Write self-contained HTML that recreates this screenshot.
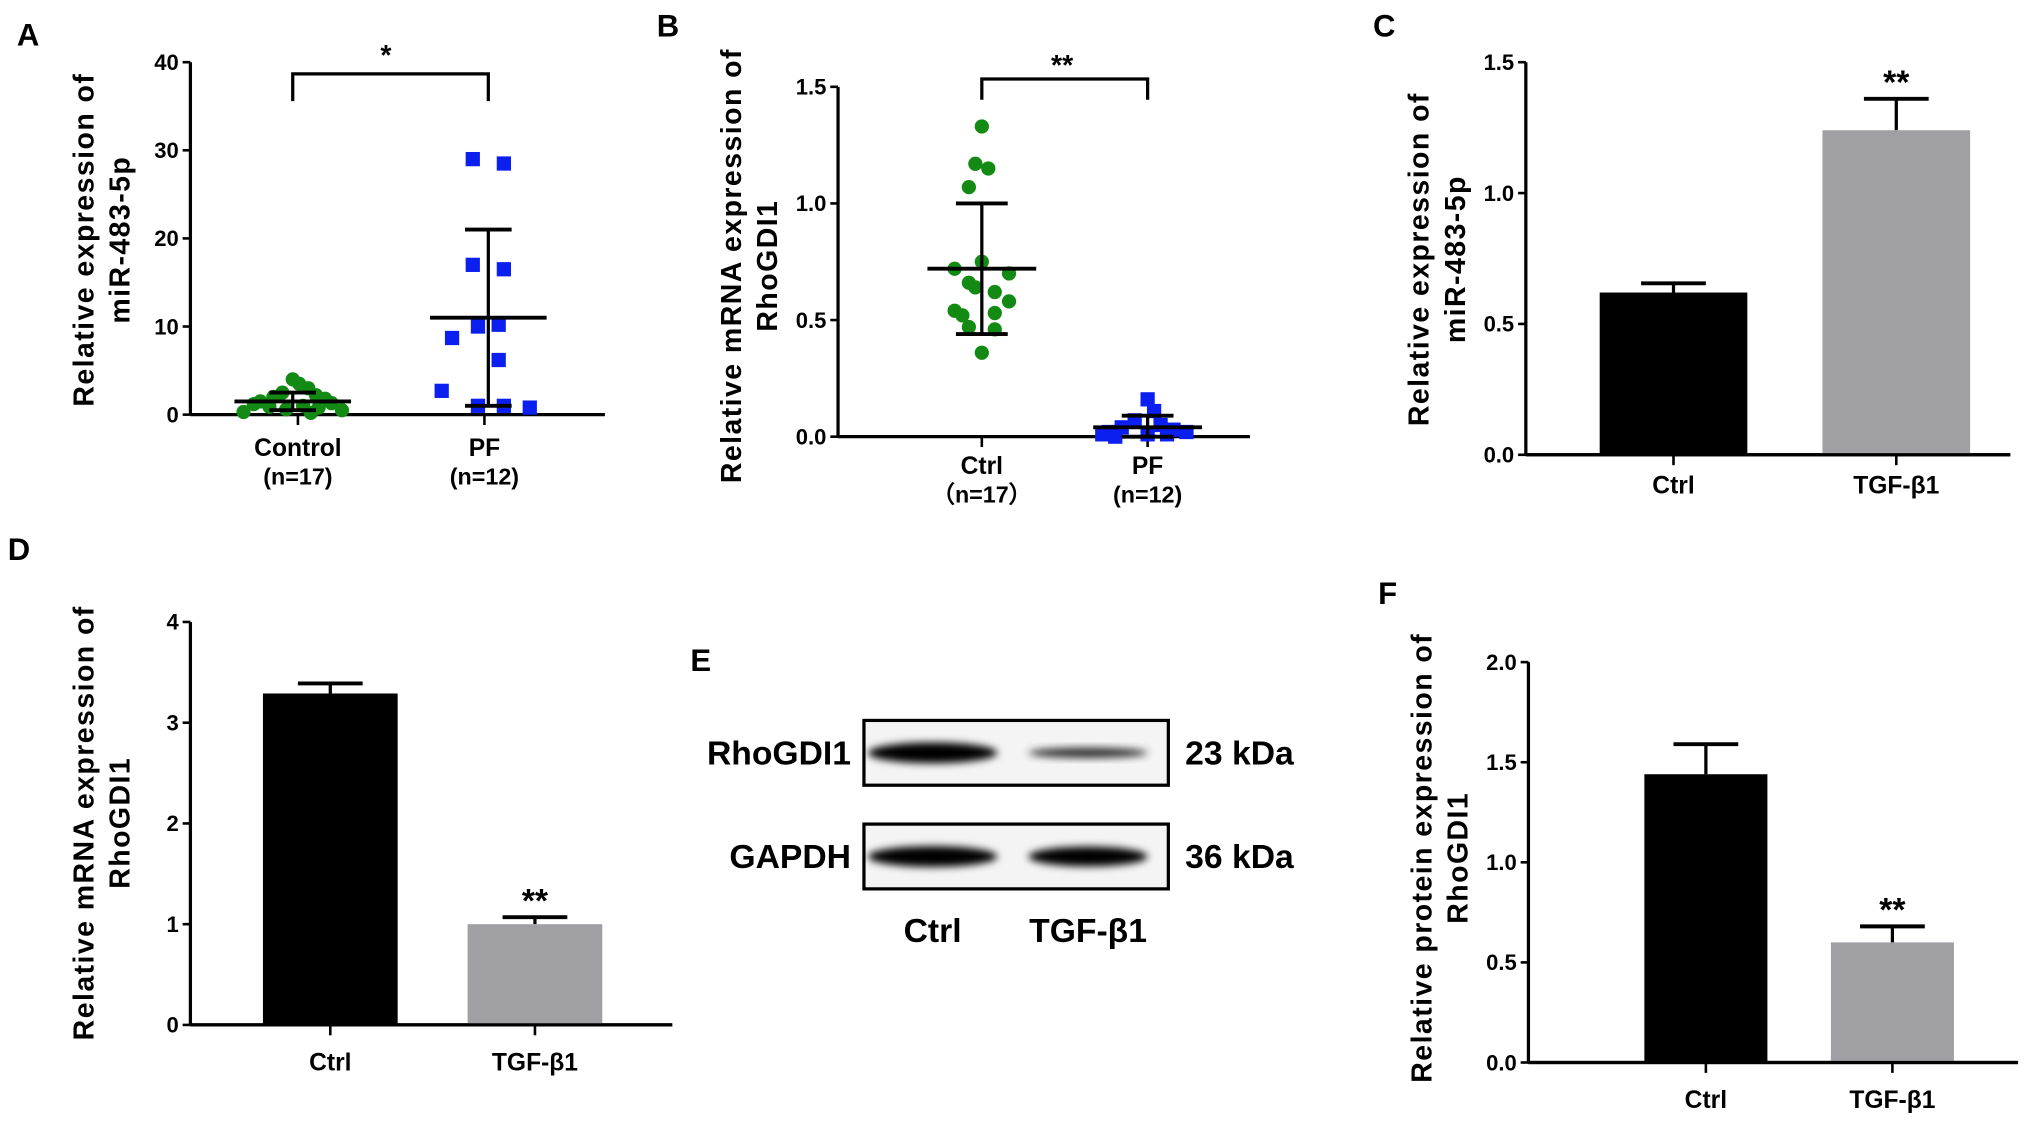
<!DOCTYPE html>
<html><head><meta charset="utf-8"><style>
html,body{margin:0;padding:0;background:#fff}
svg{display:block}
text{font-family:"Liberation Sans",Arial,sans-serif;font-weight:bold;fill:#000}
</style></head><body>
<svg id="fig" width="2031" height="1126" viewBox="0 0 1568 869" preserveAspectRatio="none" xmlns="http://www.w3.org/2000/svg">
<defs>
<filter id="blur" x="-20%" y="-50%" width="140%" height="200%"><feGaussianBlur stdDeviation="3"/></filter>
</defs>
<g id="root"></g>
</svg>
<script>
// Panel A data
const aCtrl=[4.0,3.5,3.0,2.5,2.2,2.0,1.8,1.5,1.3,1.2,1.0,0.9,0.8,0.6,0.5,0.3,0.2];
const aPF=[29,28.5,17,16.5,10.2,10,8.7,6.2,2.7,1.0,1.0,0.8];
const aStats=[[1.5,2.5,0.5],[11,21,1]];
const aTicks=[0,10,20,30,40];
// Panel B data
const bCtrl=[1.33,1.17,1.15,1.07,0.75,0.72,0.70,0.66,0.62,0.58,0.54,0.53,0.52,0.47,0.46,0.36,0.64];
const bPF=[0.16,0.11,0.07,0.05,0.04,0.03,0.02,0.02,0.01,0.01,0.01,0.0];
const bStats=[[0.72,1.0,0.44],[0.04,0.09,0.0]];
const bTicks=[0,0.5,1.0,1.5];
// Panel C
const cVals=[0.62,1.24];const cErr=[0.035,0.12];const cTicks=[0,0.5,1.0,1.5];
// Panel D
const dVals=[3.29,1.0];const dErr=[0.1,0.07];const dTicks=[0,1,2,3,4];
// Panel F
const fVals=[1.44,0.6];const fErr=[0.15,0.08];const fTicks=[0,0.5,1.0,1.5,2.0];
const barCats=['Ctrl','TGF-β1'];

const NS='http://www.w3.org/2000/svg';
const root=document.getElementById('root');
function el(tag,attrs,parent,txt){const e=document.createElementNS(NS,tag);for(const k in attrs)e.setAttribute(k,attrs[k]);if(txt!==undefined)e.textContent=txt;(parent||root).appendChild(e);return e;}
function line(x1,y1,x2,y2,w,p){return el('line',{x1,y1,x2,y2,stroke:'#000','stroke-width':w||2.5},p);}
function fmt(v,dec){return dec?v.toFixed(1):String(v);}

function axis(g,x0,y0,y1,xEnd,vmax,ticks,dec,title,cats,catX,labY,sub){
  const ys=v=>y0-(v/vmax)*(y0-y1);
  const ax=line(x0,y1,x0,y0,2.5,g);
  
  
  const xa=line(x0,y0,xEnd,y0,2.5,g);
  
  
  ticks.forEach(t=>{line(x0-6,ys(t),x0,ys(t),2,g);
    const tl=el('text',{x:x0-9,y:ys(t)+6,'text-anchor':'end','font-size':17,'font-weight':'normal'},g,fmt(t,dec));
    
    });
  cats.forEach((c,i)=>{line(catX[i],y0,catX[i],y0+8,2,g);
    const cl=el('text',{x:catX[i],y:labY,'text-anchor':'middle','font-size':19},g,c);
    
    
    if(sub){const s=el('text',{x:catX[i],y:labY+22,'text-anchor':'middle','font-size':18},g,sub[i]);
      
      }});
  const tt=el('text',{transform:`translate(${x0-75},${title.cy}) rotate(-90)`,'text-anchor':'middle','font-size':22,'letter-spacing':1.1},g);
  
  
  title.lines.forEach((l,i)=>el('tspan',{x:0,y:i*28},tt,l));
  return ys;
}
function letter(x,y,t){const e=el('text',{x,y,'font-size':24},root,t);
  
  }

// ---------- Panel A ----------
let g=el('g',{});
let ysA=axis(g,147,320,48,467,40,aTicks,false,{cy:185,lines:['Relative expression of','miR-483-5p']},['Control','PF'],[230,374],352,['(n=17)','(n=12)']);
const offA=[[0,5,12,-8,18,-15,25,-25,30,-30,8,-18,20,-5,38,-38,14],[-12,12,-12,12,8,-8,-28,8,-36,-8,12,32]];
aCtrl.forEach((v,i)=>{const c=el('circle',{cx:226+offA[0][i],cy:ysA(v),r:5.5,fill:'#138a13'},g);
  });
aPF.forEach((v,i)=>{const c=el('rect',{x:377+offA[1][i]-5.5,y:ysA(v)-5.5,width:11,height:11,fill:'#0a1ff0'},g);
  });
[226,377].forEach((cx,i)=>{const s=aStats[i];line(cx,ysA(s[1]),cx,ysA(s[2]),2.5,g);
  line(cx-45,ysA(s[0]),cx+45,ysA(s[0]),3,g);line(cx-18,ysA(s[1]),cx+18,ysA(s[1]),3,g);line(cx-18,ysA(s[2]),cx+18,ysA(s[2]),3,g);});
el('path',{d:'M226 78 V57 H377 V78',fill:'none',stroke:'#000','stroke-width':2.5},g);
el('text',{x:298,y:50,'text-anchor':'middle','font-size':22},g,'*');

// ---------- Panel B ----------
g=el('g',{});
let ysB=axis(g,647,337,67,965,1.5,bTicks,true,{cy:205,lines:['Relative mRNA expression of','RhoGDI1']},['Ctrl','PF'],[758,886],366,['（n=17）','(n=12)']);
const offB=[[0,-5,5,-10,0,-21,21,-10,10,21,-21,10,-15,-10,10,0,-5],[0,5,-10,10,-20,20,-30,30,-35,0,15,-25]];
bCtrl.forEach((v,i)=>{const c=el('circle',{cx:758+offB[0][i],cy:ysB(v),r:5.5,fill:'#138a13'},g);
  });
bPF.forEach((v,i)=>{const c=el('rect',{x:886+offB[1][i]-5.5,y:ysB(v)-5.5,width:11,height:11,fill:'#0a1ff0'},g);
  });
[758,886].forEach((cx,i)=>{const s=bStats[i];line(cx,ysB(s[1]),cx,ysB(s[2]),2.5,g);
  line(cx-42,ysB(s[0]),cx+42,ysB(s[0]),3,g);line(cx-20,ysB(s[1]),cx+20,ysB(s[1]),3,g);line(cx-20,ysB(s[2]),cx+20,ysB(s[2]),3,g);});
el('path',{d:'M758 77 V61 H886 V77',fill:'none',stroke:'#000','stroke-width':2.5},g);
el('text',{x:820,y:58,'text-anchor':'middle','font-size':22},g,'**');

// ---------- bar panels ----------
function barPanel(name,x0,y0,y1,xEnd,vmax,ticks,dec,title,vals,errs,cx,bw,labY){
  const g=el('g',{});
  const ys=axis(g,x0,y0,y1,xEnd,vmax,ticks,dec,title,barCats,cx,labY);
  vals.forEach((v,i)=>{
    const top=ys(v+errs[i]);
    line(cx[i],ys(v),cx[i],top,2.5,g);line(cx[i]-25,top,cx[i]+25,top,3,g);
    const r=el('rect',{x:cx[i]-bw/2,y:ys(v),width:bw,height:y0-ys(v),fill:i?'#a0a0a4':'#000'},g);
    
  });
  const st=el('text',{x:cx[1],y:ys(vals[1]+errs[1])-4,'text-anchor':'middle','font-size':26},g,'**');
  
  line(x0,y0,xEnd,y0,2.5,g);
}
barPanel('panel-c-bar',1178,351,48,1552,1.5,cTicks,true,{cy:200,lines:['Relative expression of','miR-483-5p']},cVals,cErr,[1292,1464],114,381);
barPanel('panel-d-bar',147,791,480,519,4,dTicks,false,{cy:635,lines:['Relative mRNA expression of','RhoGDI1']},dVals,dErr,[255,413],104,826);
barPanel('panel-f-bar',1180,820,511,1558,2,fTicks,true,{cy:662,lines:['Relative protein expression of','RhoGDI1']},fVals,fErr,[1317,1461],95,855);

// ---------- Panel E blot ----------
g=el('g',{});
[[556,'RhoGDI1','23 kDa',[1,0.5]],[636,'GAPDH','36 kDa',[1,0.95]]].forEach(r=>{
  const b=el('rect',{x:667,y:r[0],width:235,height:50,fill:'#f4f4f4',stroke:'#000','stroke-width':2.5},g);
  
  el('ellipse',{cx:720,cy:r[0]+25,rx:50,ry:8*r[3][0],fill:'#000',filter:'url(#blur)'},g);
  el('ellipse',{cx:840,cy:r[0]+25,rx:46,ry:8*r[3][1],fill:r[3][1]<0.8?'#333':'#000',filter:'url(#blur)'},g);
  el('text',{x:657,y:r[0]+34,'text-anchor':'end','font-size':26},g,r[1]);
  el('text',{x:915,y:r[0]+34,'font-size':26},g,r[2]);
});
el('text',{x:720,y:727,'text-anchor':'middle','font-size':26},g,'Ctrl');
el('text',{x:840,y:727,'text-anchor':'middle','font-size':26},g,'TGF-β1');

letter(13,35,'A');letter(507,28,'B');letter(1060,28,'C');letter(6,432,'D');letter(533,518,'E');letter(1064,466,'F');
</script>
</body></html>
